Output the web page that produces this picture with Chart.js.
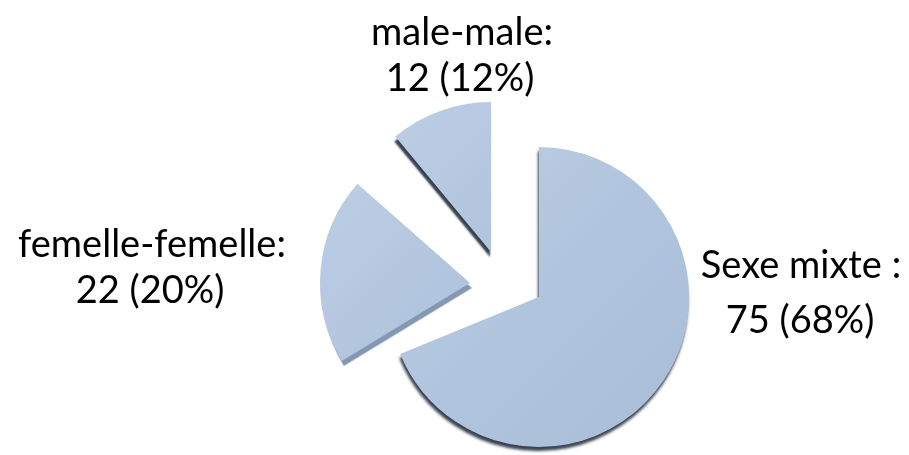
<!DOCTYPE html>
<html><head><meta charset="utf-8">
<script src="https://cdn.jsdelivr.net/npm/chart.js@4.4.0/dist/chart.umd.min.js"></script>
<style>
html,body{margin:0;padding:0;background:#fff;}
#wrap{position:relative;width:909px;height:455px;overflow:hidden;background:#fff;}
#wrap canvas{position:absolute;left:0;top:0;}
.lbl{position:absolute;transform:translate(-50%,-50%);font-family:Lato,"Open Sans",sans-serif;font-size:38px;color:#000;white-space:nowrap;line-height:1;}
</style></head>
<body>
<div id="wrap">
  <canvas id="c0" width="909" height="455"></canvas>
  <canvas id="c1" width="909" height="455"></canvas>
  <canvas id="c2" width="909" height="455"></canvas>
</div>
<script>
// ---- data ----
const categories = ['Sexe mixte', 'femelle-femelle', 'male-male'];
const counts = [75, 22, 12];
const percents = [68, 20, 12];
const labelHeads = ['Sexe mixte :', 'femelle-femelle:', 'male-male:'];

// ---- layout / style (kept apart from data) ----
const W = 909, H = 455, R = 150;
const sliceCenters = [[539, 297], [470, 283], [491, 252]];
const sliceRotation = [0, -9, 0];
const shadowStyle = [
  {color: 'rgba(45,55,70,0.95)', blur: 3, x: -1, y: 4},
  {color: 'rgba(125,145,175,0.95)', blur: 1, x: 2, y: 5},
  {color: 'rgba(45,55,70,0.95)', blur: 2, x: -1, y: 5}
];
const labelPos = [
  [[801, 263], [800, 318]],
  [[152, 242], [150, 288]],
  [[462, 30], [460, 76]]
];

const shadowPlugin = {
  id: 'sliceShadow',
  beforeDatasetsDraw(chart, args, opts) {
    const c = chart.ctx;
    c.save();
    c.shadowColor = opts.color;
    c.shadowBlur = opts.blur;
    c.shadowOffsetX = opts.x;
    c.shadowOffsetY = opts.y;
  },
  afterDatasetsDraw(chart) { chart.ctx.restore(); }
};

function fillFor(i) {
  return function (ctx) {
    if (ctx.dataIndex !== i) return 'rgba(0,0,0,0)';
    const chart = ctx.chart;
    const [cx, cy] = sliceCenters[i];
    const g = chart.ctx.createLinearGradient(cx - R, cy - R, cx + R, cy + R);
    g.addColorStop(0, '#bfd0e5');
    g.addColorStop(0.5, '#b0c4dd');
    g.addColorStop(1, '#a9bdd8');
    return g;
  };
}

categories.forEach((cat, i) => {
  const [cx, cy] = sliceCenters[i];
  const pad = {left: 0, right: 0, top: 0, bottom: 0};
  if (2 * cx > W) pad.left = 2 * cx - W; else pad.right = W - 2 * cx;
  if (2 * cy > H) pad.top = 2 * cy - H; else pad.bottom = H - 2 * cy;
  new Chart(document.getElementById('c' + i), {
    type: 'pie',
    data: {
      labels: categories,
      datasets: [{
        data: counts,
        backgroundColor: fillFor(i),
        borderWidth: 0,
        radius: R,
        clip: false
      }]
    },
    options: {
      responsive: false,
      animation: false,
      rotation: sliceRotation[i],
      layout: {padding: pad},
      events: [],
      plugins: {
        legend: {display: false},
        tooltip: {enabled: false},
        sliceShadow: shadowStyle[i]
      }
    },
    plugins: [shadowPlugin]
  });
});

// ---- labels (real text) ----
const wrap = document.getElementById('wrap');
categories.forEach((cat, i) => {
  const lines = [labelHeads[i], counts[i] + ' (' + percents[i] + '%)'];
  lines.forEach((t, k) => {
    const d = document.createElement('div');
    d.className = 'lbl';
    d.textContent = t;
    d.style.left = labelPos[i][k][0] + 'px';
    d.style.top = labelPos[i][k][1] + 'px';
    wrap.appendChild(d);
  });
});
</script>
</body></html>
